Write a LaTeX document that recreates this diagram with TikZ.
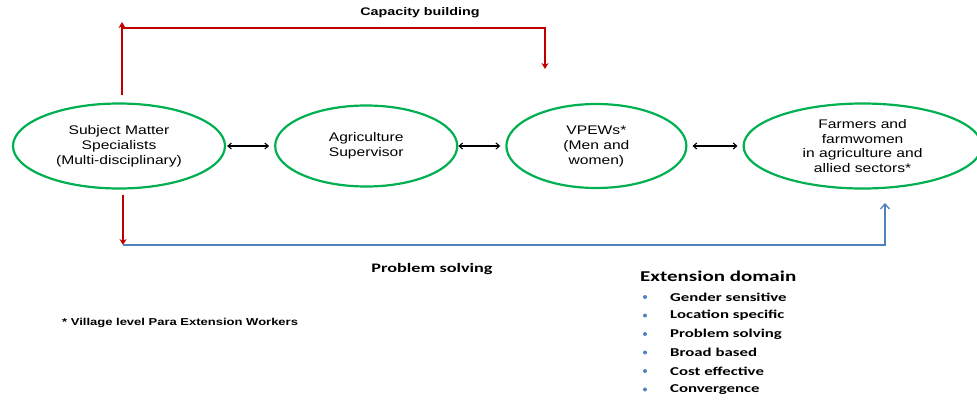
\documentclass[tikz,border=0pt]{standalone}
\usepackage{fontspec}
\usepackage{tikz}
\usetikzlibrary{positioning}
\usetikzlibrary{arrows.meta}
\usetikzlibrary{shapes.geometric}
\newfontfamily\ellfont[FakeStretch=1.25]{Liberation Sans}
\newfontfamily\headfont[FakeStretch=1.3]{Liberation Sans}
\newfontfamily\listfont[FakeStretch=1.4]{Carlito}
\definecolor{ellgreen}{HTML}{00B050}
\definecolor{linkred}{HTML}{C00000}
\definecolor{linkblue}{HTML}{4F81BD}
\tikzset{stage/.style={draw=ellgreen,ellipse,line width=2.2pt,inner sep=0pt,align=center,font=\ellfont\fontsize{12.5}{15}\selectfont}}
\tikzset{both/.style={<->,>={Straight Barb[length=3.5pt,width=6pt]},line width=1.1pt,black}}
\tikzset{capacity/.style={linkred,line width=1.3pt,-{Stealth[length=6pt,width=7pt]}}}
\tikzset{solving/.style={linkblue,line width=1.3pt}}
\tikzset{caption/.style={font=\headfont\bfseries\fontsize{11}{13}\selectfont}}
\tikzset{listitem/.style={font=\listfont\bfseries\fontsize{12}{14}\selectfont,anchor=west,inner sep=0pt}}
\tikzset{dot/.style={circle,fill=linkblue,inner sep=0pt,minimum size=4pt}}

\begin{document}
\begin{tikzpicture}[x=1pt,y=-1pt]
    \useasboundingbox (0,0) rectangle (977,399);
    % the four stages of the chain
    \node[stage,minimum width=212pt,minimum height=85pt] (sms) at (119,146) {Subject Matter\\Specialists\\(Multi-disciplinary)};
    \node[stage,minimum width=182pt,minimum height=81pt,right=48pt of sms] (sup) {Agriculture\\Supervisor};
    \node[stage,minimum width=180pt,minimum height=84pt,right=47pt of sup] (vpew) {VPEWs*\\(Men and\\women)};
    \node[stage,minimum width=238pt,minimum height=85pt,right=55pt of vpew,font=\ellfont\fontsize{12.5}{14.5}\selectfont] (farm) {Farmers and\\farmwomen\\in agriculture and\\allied sectors*};
        \draw[both,shorten <=1pt,shorten >=5pt] (sms) -- (sup);
        \draw[both,shorten >=5pt] (sup) -- (vpew);
        \draw[both,shorten <=5pt,shorten >=5pt] (vpew) -- (farm);
    % capacity building loop
    \coordinate (cbl) at (122,28);
    \coordinate (cbr) at (545,28);
    \coordinate (cbend) at (545,69);
        \draw[capacity] ([xshift=3pt,yshift=7pt]sms.north) -- ([yshift=6pt]cbl);
        \draw[capacity] (cbl) -- (cbr) -- (cbend);
    \node[caption] (cap) at (420,13) {Capacity building};
    % problem solving loop
    \coordinate (psl) at (123,245);
    \coordinate (psr) at (885,245);
    \coordinate (psend) at (885,203);
        \draw[capacity] ([xshift=4pt,yshift=-5pt]sms.south) -- (psl);
        \draw[solving,-{Straight Barb[length=5pt,width=9pt]}] (psl) -- (psr) -- (psend);
    \node[font=\listfont\bfseries\fontsize{13}{15}\selectfont] (prob) at (432,269) {Problem solving};
    % footnote
    \node[caption,font=\headfont\bfseries\fontsize{10}{12}\selectfont,anchor=west,inner sep=0pt] (note) at (62,323) {* Village level Para Extension Workers};
    % extension domain list
    \node[listitem,font=\listfont\bfseries\fontsize{15}{17}\selectfont] (ext) at (640,276) {Extension domain};
    \foreach \txt [count=\i] in {Gender sensitive,Location specific,Problem solving,Broad based,Cost effective,Convergence}{
        \node[dot] (b\i) at (645,297+18.5*\i-18.5) {};
        \node[listitem] (item\i) at (670,297+18.5*\i-18.5) {\txt};
    }
\end{tikzpicture}
\end{document}
